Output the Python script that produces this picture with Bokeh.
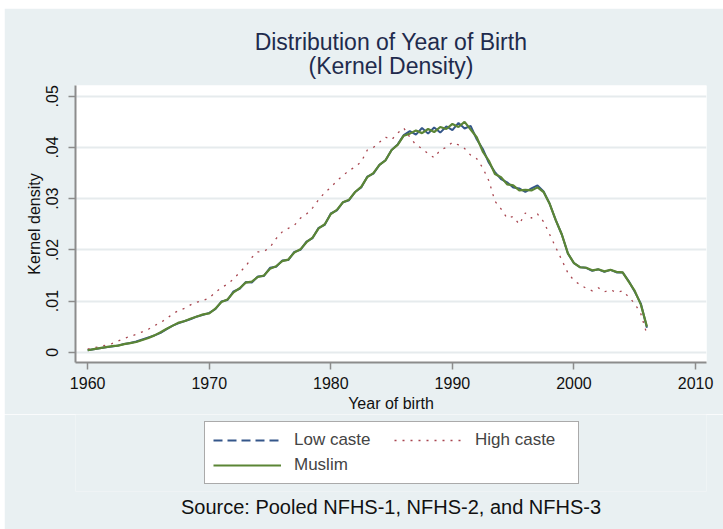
from bokeh.plotting import figure
from bokeh.layouts import column
from bokeh.models import Range1d, FixedTicker, Legend, LegendItem, Title
from bokeh.embed import file_html
from bokeh.resources import INLINE

# ---------------- data ----------------
years = [1960.0, 1960.5, 1961.0, 1961.5, 1962.0, 1962.5, 1963.0, 1963.5, 1964.0, 1964.5,
         1965.0, 1965.5, 1966.0, 1966.5, 1967.0, 1967.5, 1968.0, 1968.5, 1969.0, 1969.5,
         1970.0, 1970.5, 1971.0, 1971.5, 1972.0, 1972.5, 1973.0, 1973.5, 1974.0, 1974.5,
         1975.0, 1975.5, 1976.0, 1976.5, 1977.0, 1977.5, 1978.0, 1978.5, 1979.0, 1979.5,
         1980.0, 1980.5, 1981.0, 1981.5, 1982.0, 1982.5, 1983.0, 1983.5, 1984.0, 1984.5,
         1985.0, 1985.5, 1986.0, 1986.5, 1987.0, 1987.5, 1988.0, 1988.5, 1989.0, 1989.5,
         1990.0, 1990.5, 1991.0, 1991.5, 1992.0, 1992.5, 1993.0, 1993.5, 1994.0, 1994.5,
         1995.0, 1995.5, 1996.0, 1996.5, 1997.0, 1997.5, 1998.0, 1998.5, 1999.0, 1999.5,
         2000.0, 2000.5, 2001.0, 2001.5, 2002.0, 2002.5, 2003.0, 2003.5, 2004.0, 2004.5,
         2005.0, 2005.5, 2006.0]

low_caste = [0.0004, 0.0006, 0.0008, 0.0010, 0.0011, 0.0013, 0.0016, 0.0018, 0.0021, 0.0025,
             0.0029, 0.0033, 0.0038, 0.0045, 0.0052, 0.0057, 0.0061, 0.0065, 0.0070, 0.0073,
             0.0077, 0.0084, 0.0099, 0.0102, 0.0119, 0.0124, 0.0137, 0.0136, 0.0148, 0.0149,
             0.0165, 0.0167, 0.0179, 0.0180, 0.0196, 0.0200, 0.0216, 0.0223, 0.0243, 0.0249,
             0.0271, 0.0277, 0.0293, 0.0297, 0.0313, 0.0322, 0.0343, 0.0349, 0.0366, 0.0375,
             0.0395, 0.0406, 0.0424, 0.0432, 0.0425, 0.0438, 0.0427, 0.0439, 0.0429, 0.0441,
             0.0434, 0.0448, 0.0437, 0.0442, 0.0416, 0.0397, 0.0370, 0.0352, 0.0338, 0.0332,
             0.0322, 0.0320, 0.0313, 0.0320, 0.0326, 0.0314, 0.0290, 0.0258, 0.0230, 0.0193,
             0.0174, 0.0166, 0.0165, 0.0159, 0.0162, 0.0157, 0.0161, 0.0156, 0.0156, 0.0139,
             0.0118, 0.0095, 0.0048]

high_caste = [0.0006, 0.0009, 0.0011, 0.0014, 0.0017, 0.0022, 0.0027, 0.0031, 0.0035, 0.0040,
              0.0045, 0.0052, 0.0058, 0.0066, 0.0075, 0.0082, 0.0086, 0.0093, 0.0098, 0.0101,
              0.0106, 0.0117, 0.0126, 0.0133, 0.0143, 0.0156, 0.0168, 0.0185, 0.0196, 0.0197,
              0.0205, 0.0222, 0.0235, 0.0242, 0.0248, 0.0262, 0.0270, 0.0282, 0.0298, 0.0312,
              0.0322, 0.0335, 0.0345, 0.0355, 0.0362, 0.0372, 0.0395, 0.0400, 0.0410, 0.0420,
              0.0415, 0.0428, 0.0438, 0.0420, 0.0405, 0.0398, 0.0388, 0.0380, 0.0395, 0.0400,
              0.0410, 0.0405, 0.0398, 0.0385, 0.0378, 0.0360, 0.0335, 0.0295, 0.0280, 0.0262,
              0.0265, 0.0250, 0.0272, 0.0262, 0.0270, 0.0255, 0.0230, 0.0205, 0.0180, 0.0155,
              0.0140, 0.0132, 0.0125, 0.0120, 0.0126, 0.0118, 0.0122, 0.0117, 0.0120, 0.0108,
              0.0095, 0.0075, 0.0035]

muslim = [0.0004, 0.0006, 0.0008, 0.0010, 0.0012, 0.0013, 0.0016, 0.0018, 0.0020, 0.0024,
          0.0028, 0.0033, 0.0039, 0.0046, 0.0052, 0.0058, 0.0061, 0.0066, 0.0070, 0.0074,
          0.0076, 0.0085, 0.0098, 0.0103, 0.0117, 0.0125, 0.0136, 0.0138, 0.0147, 0.0150,
          0.0163, 0.0168, 0.0178, 0.0181, 0.0195, 0.0201, 0.0215, 0.0224, 0.0242, 0.0250,
          0.0270, 0.0278, 0.0293, 0.0298, 0.0313, 0.0323, 0.0342, 0.0350, 0.0366, 0.0375,
          0.0395, 0.0405, 0.0423, 0.0427, 0.0433, 0.0428, 0.0436, 0.0430, 0.0440, 0.0436,
          0.0446, 0.0440, 0.0450, 0.0435, 0.0420, 0.0392, 0.0374, 0.0348, 0.0342, 0.0328,
          0.0326, 0.0316, 0.0317, 0.0316, 0.0322, 0.0313, 0.0290, 0.0258, 0.0230, 0.0193,
          0.0174, 0.0166, 0.0165, 0.0160, 0.0162, 0.0158, 0.0161, 0.0157, 0.0156, 0.0138,
          0.0120, 0.0093, 0.0050]

series_names = ["Low caste", "High caste", "Muslim"]
x_ticks = [1960, 1970, 1980, 1990, 2000, 2010]
y_ticks = [0, 0.01, 0.02, 0.03, 0.04, 0.05]
y_tick_labels = ["0", ".01", ".02", ".03", ".04", ".05"]

title_lines = ["Distribution of Year of Birth", "(Kernel Density)"]
x_label = "Year of birth"
y_label = "Kernel density"
note = "Source: Pooled NFHS-1, NFHS-2, and NFHS-3"

# ---------------- styles ----------------
FONT = "Liberation Sans"
BG = "#e9f0f2"
TITLE_COLOR = "#1f2b4d"
AXIS_COLOR = "#8c8c8c"
GRID_COLOR = "#e6ebed"
C_LOW = "#34568a"
C_HIGH = "#a8454f"
C_MUS = "#5b8535"
LOW_STYLE = dict(line_color=C_LOW, line_width=2)
HIGH_STYLE = dict(line_color=C_HIGH, line_width=1.3, line_dash="2 6")
MUS_STYLE = dict(line_color=C_MUS, line_width=2.2)

# ---------------- main plot ----------------
p = figure(width=719, height=406, output_backend="svg", toolbar_location=None,
           x_range=Range1d(1959.0, 2010.9), y_range=Range1d(-0.002, 0.0521),
           min_border_left=71, min_border_right=17, min_border_top=77, min_border_bottom=52)

p.background_fill_color = "white"
p.border_fill_color = BG
p.outline_line_color = None

# second title line sits next to the plot, first line above it
sub = Title(text=title_lines[1], align="center", text_font=FONT, text_font_size="23px",
            text_font_style="normal", text_color=TITLE_COLOR, text_line_height=0.8,
            standoff=13)
p.add_layout(sub, "above")

p.title.text = title_lines[0]
p.title.align = "center"
p.title.text_font = FONT
p.title.text_font_size = "23px"
p.title.text_font_style = "normal"
p.title.text_color = TITLE_COLOR
p.title.text_line_height = 0.8
try:
    p.title.standoff = -20
except ValueError:
    p.title.standoff = 0

for ax in (p.xaxis[0], p.yaxis[0]):
    ax.axis_line_color = AXIS_COLOR
    ax.axis_line_width = 2
    ax.major_tick_line_color = AXIS_COLOR
    ax.major_tick_line_width = 1.5
    ax.major_tick_out = 7
    ax.major_tick_in = 0
    ax.minor_tick_line_color = None
    ax.major_label_text_font = FONT
    ax.major_label_text_font_size = "16px"
    ax.major_label_text_color = "#111111"
    ax.axis_label_text_font = FONT
    ax.axis_label_text_font_size = "16px"
    ax.axis_label_text_font_style = "normal"
    ax.axis_label_text_color = "#111111"

p.xaxis.ticker = FixedTicker(ticks=x_ticks)
p.xaxis.axis_label = x_label
p.xaxis.major_label_standoff = 7
p.xaxis.axis_label_standoff = 3

p.yaxis.ticker = FixedTicker(ticks=y_ticks)
p.yaxis.major_label_overrides = {t: l for t, l in zip(y_ticks, y_tick_labels)}
p.yaxis.major_label_orientation = "vertical"
p.yaxis.axis_label = y_label
p.yaxis.major_label_standoff = 10
p.yaxis.axis_label_standoff = 1

p.xgrid.grid_line_color = None
p.ygrid.grid_line_color = GRID_COLOR
p.ygrid.grid_line_width = 2

p.line(years, low_caste, **LOW_STYLE)
p.line(years, high_caste, **HIGH_STYLE)
p.line(years, muslim, **MUS_STYLE)

# ---------------- legend + note panel ----------------
# the series are drawn here outside the visible ranges, only so that the legend has its glyphs
q = figure(width=719, height=115, output_backend="svg", toolbar_location=None,
           x_range=Range1d(0, 1), y_range=Range1d(0, 1),
           x_axis_location=None, y_axis_location=None,
           min_border_left=71, min_border_right=17, min_border_top=0, min_border_bottom=38)
q.background_fill_color = BG
q.border_fill_color = BG
q.outline_line_color = None
q.grid.grid_line_color = None

k_low = q.line(years, low_caste, line_color=C_LOW, line_width=2, line_dash="9 5")
k_high = q.line(years, high_caste, **HIGH_STYLE)
k_mus = q.line(years, muslim, **MUS_STYLE)

legend = Legend(items=[LegendItem(label=series_names[0], renderers=[k_low]),
                       LegendItem(label=series_names[1], renderers=[k_high]),
                       LegendItem(label=series_names[2], renderers=[k_mus])],
                orientation="horizontal", ncols=2, location=(129, 7),
                glyph_width=68, glyph_height=18, label_standoff=13, label_width=95,
                spacing=5, padding=8, margin=0,
                label_text_font=FONT, label_text_font_size="17px",
                border_line_color="#555555", border_line_width=1.5,
                background_fill_color="white", background_fill_alpha=1.0)
q.add_layout(legend, "center")

src = Title(text=note, align="center", text_font=FONT, text_font_size="20px",
            text_font_style="normal", text_color="#111111", standoff=4)
q.add_layout(src, "below")

layout = column(p, q, spacing=0, margin=(8, 0, 0, 4))
open("out.html", "w").write(file_html(layout, INLINE))
